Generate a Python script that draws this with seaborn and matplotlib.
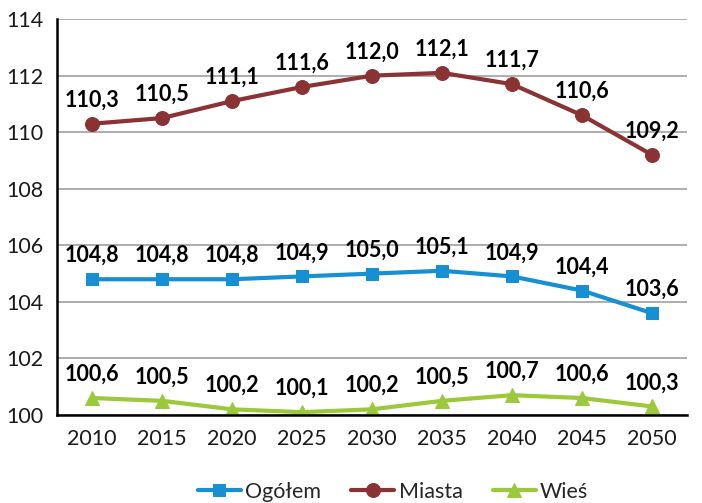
import numpy as np
import pandas as pd
import matplotlib.pyplot as plt
import seaborn as sns

# -----------------------------
# Data
# -----------------------------
years = [2010, 2015, 2020, 2025, 2030, 2035, 2040, 2045, 2050]
ogolem = [104.8, 104.8, 104.8, 104.9, 105.0, 105.1, 104.9, 104.4, 103.6]
miasta = [110.3, 110.5, 111.1, 111.6, 112.0, 112.1, 111.7, 110.6, 109.2]
wies = [100.6, 100.5, 100.2, 100.1, 100.2, 100.5, 100.7, 100.6, 100.3]

series_names = ["Ogółem", "Miasta", "Wieś"]
series_values = [ogolem, miasta, wies]
colors = ["#1690D2", "#8B3234", "#9CC83C"]
markers = ["s", "o", "^"]
marker_sizes = [8, 10, 10]

# -----------------------------
# Plot
# -----------------------------
sns.set_style("white")
plt.rcParams["font.family"] = ["Lato", "DejaVu Sans"]

fig = plt.figure(figsize=(7.02, 5.03), dpi=100)
ax = fig.add_axes([0.0812, 0.175, 0.8974, 0.787])

pos = np.arange(len(years))
for name, vals, col, mk, ms in zip(series_names, series_values, colors, markers, marker_sizes):
    df = pd.DataFrame({"x": pos, "y": vals})
    sns.lineplot(data=df, x="x", y="y", ax=ax, color=col, linewidth=3,
                 marker=mk, markersize=ms, markeredgecolor=col, label=name)
    for xi, yi in zip(pos, vals):
        ax.annotate(f"{yi:.1f}".replace(".", ","), (xi, yi), xytext=(0, 9.5),
                    textcoords="offset points", ha="center", va="bottom",
                    fontsize=15.5, fontweight="bold", color="black")

ax.set_xlim(-0.5, len(years) - 0.5)
ax.set_ylim(100, 114)
ax.set_yticks(np.arange(100, 115, 2))
ax.set_xticks(pos)
ax.set_xticklabels([str(y) for y in years])
ax.set_xticks(np.arange(-0.5, len(years), 1), minor=True)
ax.tick_params(axis="x", which="major", length=0, labelsize=15.5, pad=10, labelcolor="#1a1a1a")
ax.tick_params(axis="x", which="minor", length=6, width=1.2, direction="out", color="black")
ax.tick_params(axis="y", which="major", length=6, width=1.2, direction="out",
               labelsize=15.5, color="black", labelcolor="#1a1a1a", pad=4)

ax.yaxis.grid(True, color="#A0A0A0", linewidth=1.2)
ax.set_axisbelow(True)
ax.set_xlabel("")
ax.set_ylabel("")

for side in ["top", "right"]:
    ax.spines[side].set_visible(False)
for side in ["left", "bottom"]:
    ax.spines[side].set_color("black")
    ax.spines[side].set_linewidth(1.8)

handles, labels = ax.get_legend_handles_labels()
ax.get_legend().remove()
fig.legend(handles, labels, loc="center", bbox_to_anchor=(0.56, 0.022), ncol=3, frameon=False,
           fontsize=15.5, handlelength=2.0, handletextpad=0.2, columnspacing=1.4)

fig.savefig("out.png", dpi=100)
